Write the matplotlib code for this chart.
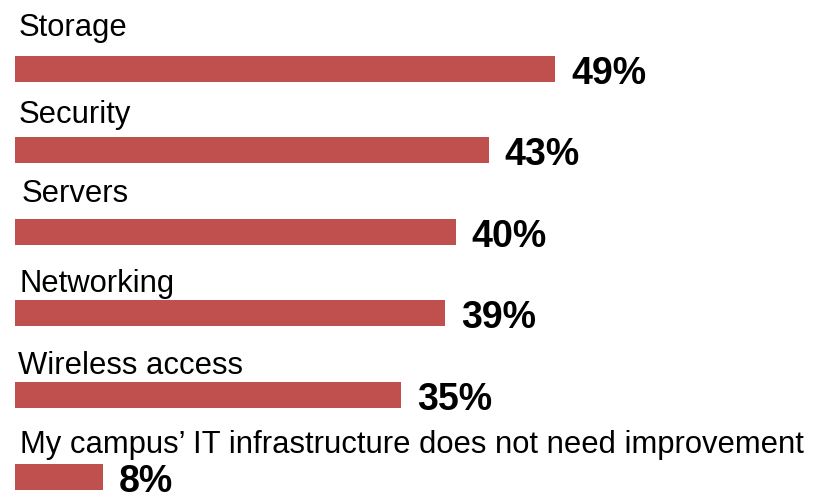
import matplotlib
matplotlib.use("Agg")
import matplotlib.pyplot as plt
from matplotlib import font_manager

categories = [
    "Storage",
    "Security",
    "Servers",
    "Networking",
    "Wireless access",
    "My campus\u2019 IT infrastructure does not need improvement",
]
values = [49, 43, 40, 39, 35, 8]
value_labels = ["49%", "43%", "40%", "39%", "35%", "8%"]

# small per-row nudges for the category captions (pixels)
caption_dx = [4, 4, 7, 5, 3.5, 5.5]
caption_dy = [20, 14.5, 17, 8.5, 7.6, 11]

BAR_COLOR = "#C0504D"

installed = {f.name for f in font_manager.fontManager.ttflist}
narrow = "Liberation Sans Narrow" if "Liberation Sans Narrow" in installed else "Liberation Sans"
caption_size = 23 if narrow == "Liberation Sans Narrow" else 22.3

W, H, DPI = 817, 496, 100
fig = plt.figure(figsize=(W / DPI, H / DPI), dpi=DPI)
ax = fig.add_axes([0, 0, 1, 1])

px_per_unit = 11.02
left_px = 15
row_px = 81.6
first_px = 68.5
bar_h = 26 / row_px

ax.set_xlim(-left_px / px_per_unit, (W - left_px) / px_per_unit)
ax.set_ylim((H - first_px) / row_px, -first_px / row_px)
ax.axis("off")

ypos = list(range(len(categories)))
ax.barh(ypos, values, height=bar_h, color=BAR_COLOR, edgecolor="none")

for i, (cat, v, lab) in enumerate(zip(categories, values, value_labels)):
    top = i - bar_h / 2
    bottom = i + bar_h / 2
    ax.annotate(cat, xy=(0, top), xytext=(caption_dx[i], caption_dy[i]),
                textcoords="offset pixels", ha="left", va="baseline",
                fontsize=caption_size, family=[narrow, "DejaVu Sans"], color="black")
    ax.annotate(lab, xy=(v, bottom), xytext=(16, -2),
                textcoords="offset pixels", ha="left", va="baseline",
                fontsize=27, fontweight="bold",
                family=["Liberation Sans", "DejaVu Sans"], color="black")

fig.savefig("out.png", dpi=DPI)
